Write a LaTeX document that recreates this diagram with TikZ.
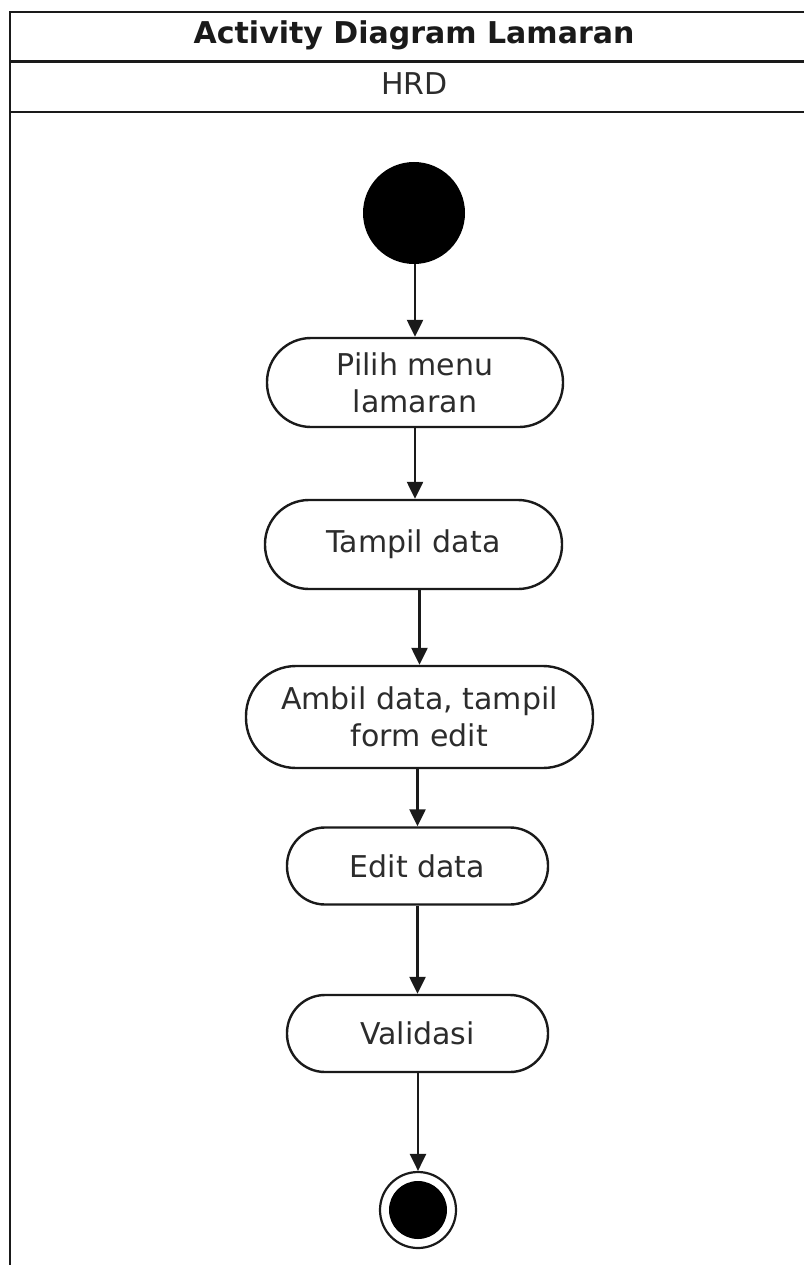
\documentclass[tikz,border=0pt]{standalone}
\usepackage{fontspec}
\setmainfont{DejaVu Sans}
\usetikzlibrary{arrows.meta}
\definecolor{ink}{HTML}{1A1A1A}
\definecolor{txt}{HTML}{2C2C2C}
\tikzset{
  frame/.style={draw=ink, line width=2.6pt},
  act/.style={draw=ink, line width=2.4pt, fill=white, rectangle, inner sep=0pt,
    align=center, text=txt, font=\fontsize{30}{37}\selectfont},
  flow/.style={draw=ink, line width=2.4pt, -{Triangle[length=17pt, width=16pt]}},
  startdot/.style={circle, fill=black, inner sep=0pt, minimum size=102pt},
}
\begin{document}
\begin{tikzpicture}[x=1pt, y=-1pt]
\useasboundingbox (0,0) rectangle (804,1265);
\fill[white] (0,0) rectangle (804,1265);

% swimlane frame: title row, lane header, lane body
\draw[frame] (804,12) -- (10,12) -- (10,1265);
\draw[frame] (10,61.5) -- (804,61.5);
\draw[frame] (10,112) -- (804,112);
\node[anchor=base, text=ink, font=\fontsize{30}{34}\selectfont\bfseries] (title) at (414,44) {Activity Diagram Lamaran};
\node[anchor=base, text=txt, font=\fontsize{30}{34}\selectfont] (lane) at (414.5,95) {HRD};

% activities
\node[startdot] (start) at (414,213) {};
\node[act, minimum width=296pt, minimum height=89pt, rounded corners=44pt] (b1) at (415,382.5) {Pilih menu\\lamaran};
\node[act, minimum width=297pt, minimum height=89pt, rounded corners=44pt] (b2) at (413.5,544.5) {Tampil data};
\node[act, minimum width=347pt, minimum height=102pt, rounded corners=50pt] (b3) at (419.5,717) {Ambil data, tampil\\form edit};
\node[act, minimum width=261pt, minimum height=77pt, rounded corners=38pt] (b4) at (417.5,866) {Edit data};
\node[act, minimum width=261pt, minimum height=77pt, rounded corners=38pt] (b5) at (417.5,1033.5) {Validasi};
\node[circle, draw=ink, line width=2.2pt, fill=white, inner sep=0pt, minimum size=76pt] (stop) at (418,1210) {};
\node[circle, fill=black, inner sep=0pt, minimum size=58pt] (stopdot) at (stop.center) {};

% control flow
\draw[flow] (start.south -| b1.north) -- (b1.north);
\draw[flow] (b1.south) -- (b1.south |- b2.north);
\draw[flow] (b2.south -| b3.north) -- (b3.north);
\draw[flow] (b3.south -| b4.north) -- (b4.north);
\draw[flow] (b4.south) -- (b5.north);
\draw[flow] (b5.south -| stop.north) -- (stop.north);
\end{tikzpicture}
\end{document}
